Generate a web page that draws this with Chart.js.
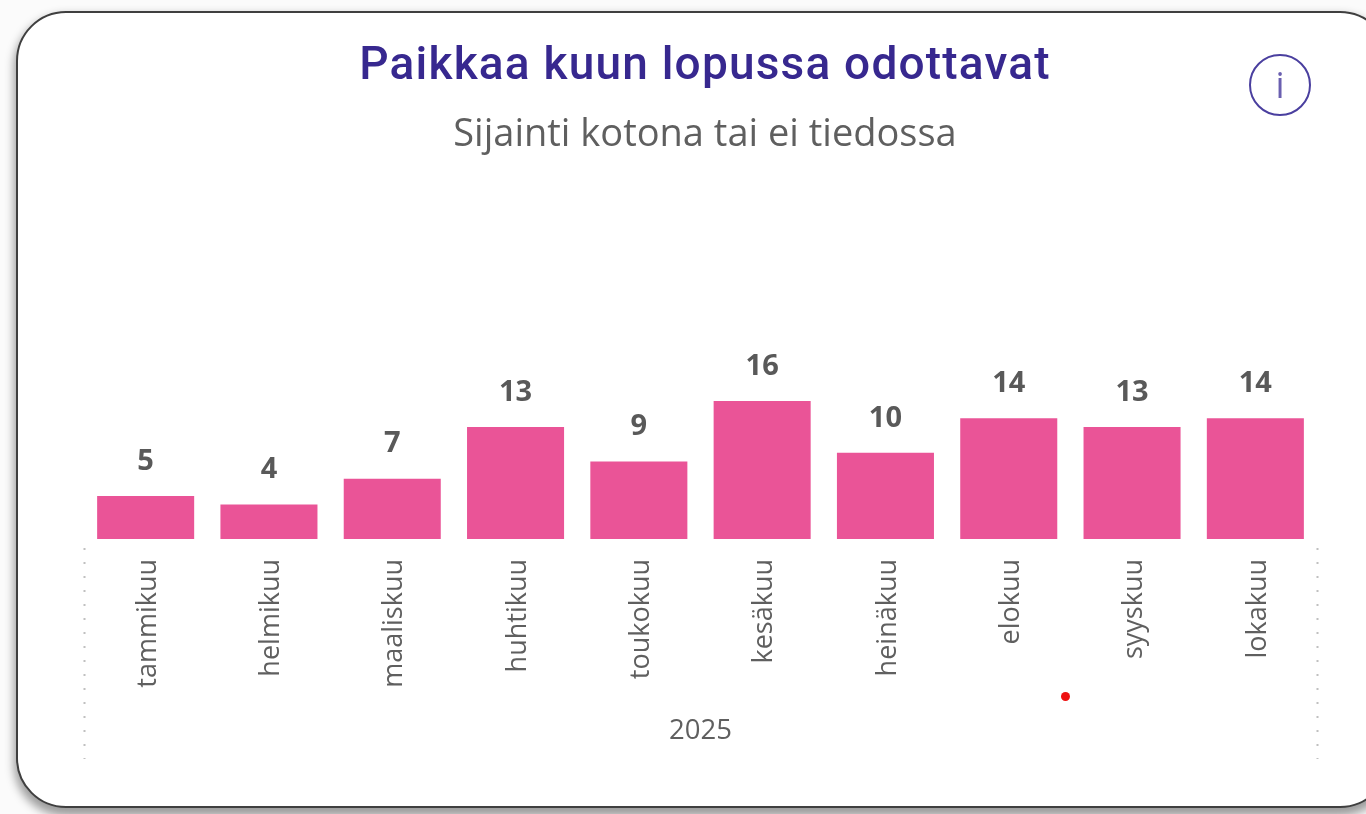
<!DOCTYPE html>
<html lang="fi">
<head>
<meta charset="utf-8">
<title>Paikkaa kuun lopussa odottavat</title>
<script src="https://cdn.jsdelivr.net/npm/chart.js@4/dist/chart.umd.min.js"></script>
<style>
  html, body { margin: 0; width: 1366px; height: 814px; overflow: hidden; background: #fbfbfb; }
  #card {
    position: absolute; left: 16px; top: 11px; width: 1370px; height: 793px;
    border: 2.5px solid #3f3f3f; border-radius: 50px; background: #fff;
    box-shadow: 0 6px 10px 2px rgba(0,0,0,.38);
  }
  #chartWrap { position: absolute; left: 0; top: 0; width: 1366px; height: 814px; }
  .head { position: absolute; left: 0; width: 1410px; text-align: center; white-space: nowrap; }
  #mainTitle { top: 36px; color: #37288f; font: 500 46px Roboto, sans-serif; letter-spacing: 1.2px; }
  #subTitle { top: 105px; color: #5f5f5f; font: 400 38px "Open Sans", sans-serif; }
  #info {
    position: absolute; left: 1249px; top: 54px; width: 58px; height: 58px;
    border: 2px solid #4a3f9f; border-radius: 50%; color: #6a5fb0;
    text-align: center; font: 400 36px/58px "Open Sans", sans-serif;
  }
  #dot { position: absolute; left: 1061px; top: 692px; width: 9px; height: 9px; border-radius: 50%; background: #ee1111; }
</style>
</head>
<body>
<div id="card"></div>
<div id="chartWrap"><canvas id="barChart" width="1366" height="814"></canvas></div>
<div class="head" id="mainTitle">Paikkaa kuun lopussa odottavat</div>
<div class="head" id="subTitle">Sijainti kotona tai ei tiedossa</div>
<div id="info">i</div>
<div id="dot"></div>
<script>
const months = ['tammikuu', 'helmikuu', 'maaliskuu', 'huhtikuu', 'toukokuu', 'kesäkuu', 'heinäkuu', 'elokuu', 'syyskuu', 'lokakuu'];
const waiting = [5, 4, 7, 13, 9, 16, 10, 14, 13, 14];
const yearLabel = '2025';

// numbers above the bars
const barLabels = {
  id: 'barLabels',
  afterDatasetsDraw(chart) {
    const ctx = chart.ctx;
    ctx.save();
    ctx.font = '700 29px "Open Sans", sans-serif';
    ctx.fillStyle = '#595959';
    ctx.textAlign = 'center';
    ctx.textBaseline = 'bottom';
    chart.getDatasetMeta(0).data.forEach((bar, i) => {
      ctx.fillText(waiting[i], bar.x, bar.y - 20);
    });
    ctx.restore();
  }
};

// dotted year separators at both ends of the x axis
const yearEdges = {
  id: 'yearEdges',
  afterDraw(chart) {
    const ctx = chart.ctx;
    const x = chart.scales.x;
    ctx.save();
    ctx.strokeStyle = '#c0c0c0';
    ctx.lineWidth = 2;
    ctx.setLineDash([2, 12]);
    [x.left, x.right].forEach(px => {
      ctx.beginPath();
      ctx.moveTo(px + 0.5, x.top + 9);
      ctx.lineTo(px + 0.5, x.top + 220);
      ctx.stroke();
    });
    ctx.restore();
  }
};

new Chart(document.getElementById('barChart').getContext('2d'), {
  type: 'bar',
  data: {
    labels: months,
    datasets: [{
      data: waiting,
      backgroundColor: '#ea5497',
      categoryPercentage: 1,
      barPercentage: 0.787
    }]
  },
  plugins: [barLabels, yearEdges],
  options: {
    responsive: false,
    animation: false,
    layout: { padding: { left: 84, right: 49, top: 332, bottom: 0 } },
    plugins: {
      legend: { display: false },
      tooltip: { enabled: false }
    },
    scales: {
      x: {
        afterFit(scale) { scale.height = 275; },
        grid: { display: false },
        border: { display: false },
        ticks: {
          color: '#5f5f5f',
          font: { family: '"Open Sans", sans-serif', size: 27 },
          minRotation: 90,
          maxRotation: 90,
          autoSkip: false,
          labelOffset: 2.5,
          padding: 12
        },
        title: {
          display: true,
          text: yearLabel,
          color: '#5f5f5f',
          font: { family: '"Open Sans", sans-serif', size: 27.5 },
          padding: { top: 0, bottom: 66 }
        }
      },
      y: {
        display: false,
        min: 0,
        max: 24
      }
    }
  }
});
</script>
</body>
</html>
